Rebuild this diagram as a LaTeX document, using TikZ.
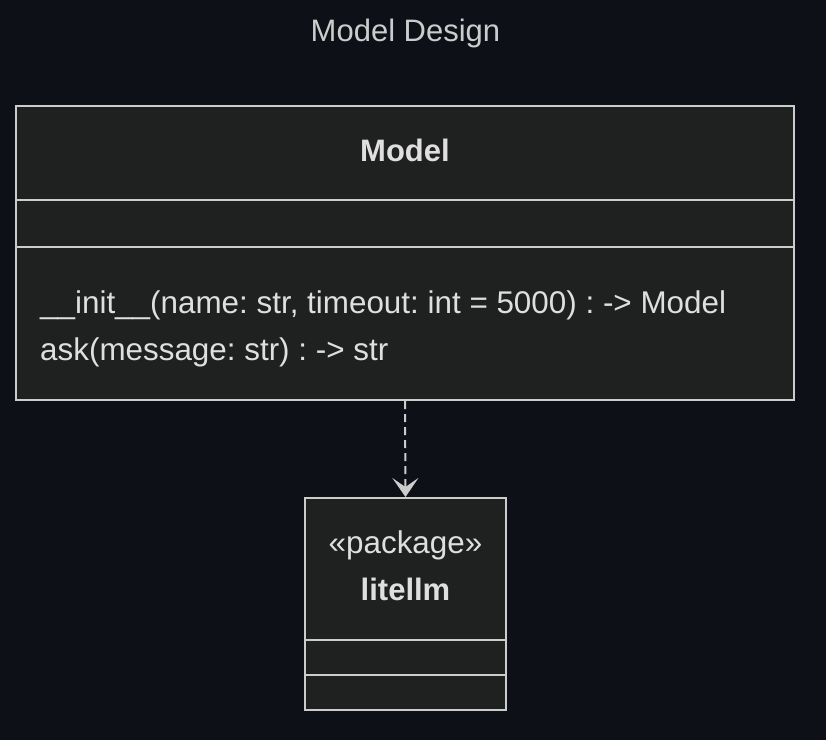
\documentclass[tikz,border=0pt]{standalone}
\usepackage{fontspec}
\setmainfont{Liberation Sans}
\usetikzlibrary{arrows.meta}
\definecolor{bgc}{HTML}{0D1117}
\definecolor{boxfill}{HTML}{1F2020}
\definecolor{strokec}{HTML}{CCCCCC}
\definecolor{titlec}{HTML}{CCCCCC}
\definecolor{textc}{HTML}{E0DFDF}
\frenchspacing
\begin{document}
\begin{tikzpicture}[x=1pt,y=-1pt,
  classbox/.style={draw=strokec,fill=boxfill,line width=2pt,inner sep=0pt},
  divider/.style={draw=strokec,line width=2pt},
  txt/.style={inner sep=0pt,text=textc,font=\fontsize{31.4}{37}\selectfont},
  dep/.style={draw=strokec,line width=2pt,dash pattern=on 8pt off 5pt,
    -{Stealth[length=19pt,width=26pt,inset=9pt]}}]
\fill[bgc] (0,0) rectangle (826,740);
\useasboundingbox (0,0) rectangle (826,740);
\node[inner sep=0pt,text=titlec,font=\fontsize{31}{37}\selectfont,anchor=base] (title) at (405.5,41) {Model Design};
% Model class
\node[classbox,minimum width=778pt,minimum height=294pt] (model) at (405,253) {};
\draw[divider] (16,200) -- (794,200);
\draw[divider] (16,247) -- (794,247);
\node[txt,anchor=base,font=\fontsize{31}{37}\selectfont\bfseries] (modelname) at (405,161) {Model};
\node[txt,anchor=base west] (m1) at (40,313) {\_\_init\_\_(name: str, timeout: int = 5000) : -> Model};
\node[txt,anchor=base west] (m2) at (40,360) {ask(message: str) : -> str};
% litellm package
\node[classbox,minimum width=201pt,minimum height=212pt] (lite) at (405.5,604) {};
\draw[divider] (305,640) -- (506,640);
\draw[divider] (305,675) -- (506,675);
\node[txt,anchor=base] (stereo) at (405.5,553) {«package»};
\node[txt,anchor=base,font=\fontsize{31}{37}\selectfont\bfseries] (litename) at (405.5,600) {litellm};
% dependency
\draw[dep] (model.south) -- (lite.north);
\end{tikzpicture}
\end{document}
